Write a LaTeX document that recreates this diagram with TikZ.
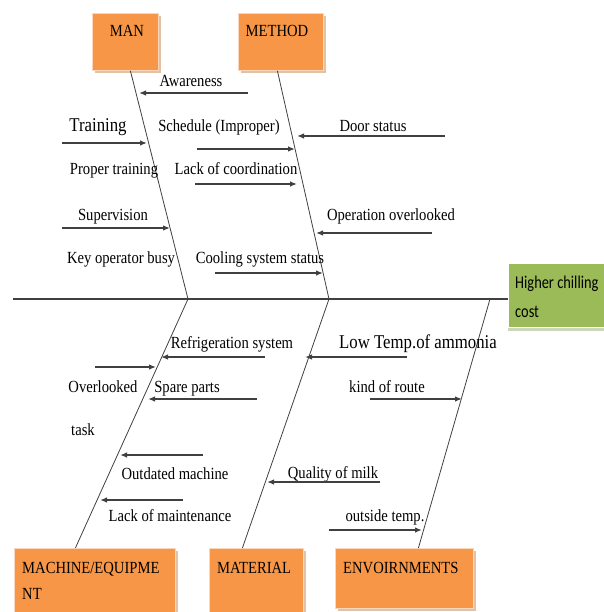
\documentclass[tikz,border=0pt]{standalone}
\usepackage{fontspec}
\setmainfont[FakeStretch=0.86]{Liberation Serif}
\newfontfamily\headfont[FakeStretch=0.8]{Carlito}
\usetikzlibrary{arrows.meta,shadows}

\definecolor{catorange}{HTML}{F79646}
\definecolor{catrim}{HTML}{FAD6BC}
\definecolor{catshade}{HTML}{E2C2A4}
\definecolor{effgreen}{HTML}{9BBB59}
\definecolor{effshade}{HTML}{CCD6BA}

\tikzset{
  category/.style={rectangle, fill=catorange, draw=catrim, line width=0.8pt, inner sep=0pt, anchor=north west,
    drop shadow={shadow xshift=2.5pt, shadow yshift=-2.5pt, fill=catshade, opacity=1}},
  cattext/.style={font=\fontsize{17}{26}\selectfont, inner sep=0pt, align=left},
  cause/.style={font=\fontsize{17}{20}\selectfont, inner sep=0pt, anchor=base},
  bigcause/.style={cause, font=\fontsize{19.5}{22}\selectfont},
  bone/.style={draw=black!75, line width=0.8pt},
  sub/.style={draw=black!75, line width=1.3pt, -{Latex[length=7pt,width=5.5pt]}},
}

\begin{document}
\begin{tikzpicture}[x=1pt, y=-1pt]
	\useasboundingbox (0,0) rectangle (603,612);
	% categories and effect
	\node[category, minimum width=66pt, minimum height=57pt] (man) at (92,13) {};
	\node[cattext, anchor=base] (mantxt) at (127,37) {MAN};
	\node[category, minimum width=85pt, minimum height=57pt] (meth) at (238,13) {};
	\node[cattext, anchor=base] (methtxt) at (277,37) {METHOD};
	\node[category, fill=effgreen, draw=white, minimum width=100pt, minimum height=64pt,
	  drop shadow={shadow xshift=0pt, shadow yshift=-4pt, fill=effshade, opacity=1}] (effect) at (508,263) {};
	\node[cattext, anchor=base west, font=\headfont\fontsize{18}{29}\selectfont] (efftxt) at (515,317) {Higher chilling\\cost};
	\node[category, minimum width=161pt, minimum height=72pt] (mach) at (14,548) {};
	\node[cattext, anchor=base west] (machtxt) at (22,599) {MACHINE/EQUIPME\\NT};
	\node[category, minimum width=94pt, minimum height=72pt] (mat) at (209,548) {};
	\node[cattext, anchor=base west] (mattxt) at (217,573) {MATERIAL};
	\node[category, minimum width=138pt, minimum height=60pt] (env) at (335,548) {};
	\node[cattext, anchor=base west] (envtxt) at (343,573) {ENVOIRNMENTS};

	% spine and bones
	\coordinate (tail) at (13,299);
	\coordinate (jman) at (188,299);
	\coordinate (jmeth) at (329,299);
	\coordinate (jenv) at (490,299);
	\draw[bone, line width=1.1pt] (tail) -- (tail -| effect.west);
	\draw[bone] ([xshift=5pt]man.south) -- (jman);
	\draw[bone] ([xshift=-3.5pt]meth.south) -- (jmeth);
	\draw[bone] (jman) -- ([xshift=-19.5pt]mach.north);
	\draw[bone] (jmeth) -- ([xshift=-14pt]mat.north);
	\draw[bone] (jenv) -- ([xshift=14pt]env.north);

	% man / method causes
	\node[cause] (aware) at (191,87) {Awareness};
	\path (248,93) coordinate (aware1) (139,93) coordinate (aware2);
	\draw[sub] (aware1) -- (aware2);
	\node[bigcause] (train) at (98,132) {Training};
	\path (62,143) coordinate (train1) (147,143) coordinate (train2);
	\draw[sub] (train1) -- (train2);
	\node[cause] (sched) at (219,132) {Schedule (Improper)};
	\path (197,149) coordinate (sched1) (295,149) coordinate (sched2);
	\draw[sub] (sched1) -- (sched2);
	\node[cause] (door) at (373,132) {Door status};
	\path (445,136) coordinate (door1) (297,136) coordinate (door2);
	\draw[sub] (door1) -- (door2);
	\node[cause] (proper) at (114,175) {Proper training};
	\node[cause] (coord) at (236,175) {Lack of coordination};
	\path (195,184) coordinate (coord1) (297,184) coordinate (coord2);
	\draw[sub] (coord1) -- (coord2);
	\node[cause] (superv) at (113,220) {Supervision};
	\path (62,228) coordinate (superv1) (170,228) coordinate (superv2);
	\draw[sub] (superv1) -- (superv2);
	\node[cause] (oper) at (391,220) {Operation overlooked};
	\path (432,233) coordinate (oper1) (316,233) coordinate (oper2);
	\draw[sub] (oper1) -- (oper2);
	\node[cause] (busy) at (121,263) {Key operator busy};
	\node[cause] (cool) at (260,263) {Cooling system status};
	\path (215,273) coordinate (cool1) (323,273) coordinate (cool2);
	\draw[sub] (cool1) -- (cool2);

	% machine / material / environment causes
	\node[cause] (refr) at (232,348) {Refrigeration system};
	\path (265,357) coordinate (refr1) (161,357) coordinate (refr2);
	\draw[sub] (refr1) -- (refr2);
	\path (95,367) coordinate (over1) (156,367) coordinate (over2);
	\draw[sub] (over1) -- (over2);
	\node[cause] (over) at (103,392) {Overlooked};
	\node[cause] (task) at (83,435) {task};
	\node[cause] (spare) at (187,392) {Spare parts};
	\path (257,399) coordinate (spare1) (148,399) coordinate (spare2);
	\draw[sub] (spare1) -- (spare2);
	\node[bigcause] (ammonia) at (418,348) {Low Temp.of ammonia};
	\path (407,357) coordinate (ammonia1) (305,357) coordinate (ammonia2);
	\draw[sub] (ammonia1) -- (ammonia2);
	\node[cause] (route) at (387,392) {kind of route};
	\path (370,399) coordinate (route1) (462,399) coordinate (route2);
	\draw[sub] (route1) -- (route2);
	\path (203,455) coordinate (outd1) (120,455) coordinate (outd2);
	\draw[sub] (outd1) -- (outd2);
	\node[cause] (outd) at (175,479) {Outdated machine};
	\path (183,500) coordinate (maint1) (100,500) coordinate (maint2);
	\draw[sub] (maint1) -- (maint2);
	\node[cause] (maint) at (170,521) {Lack of maintenance};
	\node[cause] (milk) at (333,478) {Quality of milk};
	\path (380,482) coordinate (milk1) (267,482) coordinate (milk2);
	\draw[sub] (milk1) -- (milk2);
	\node[cause] (temp) at (385,521) {outside temp.};
	\path (329,530) coordinate (temp1) (422,530) coordinate (temp2);
	\draw[sub] (temp1) -- (temp2);
\end{tikzpicture}
\end{document}
